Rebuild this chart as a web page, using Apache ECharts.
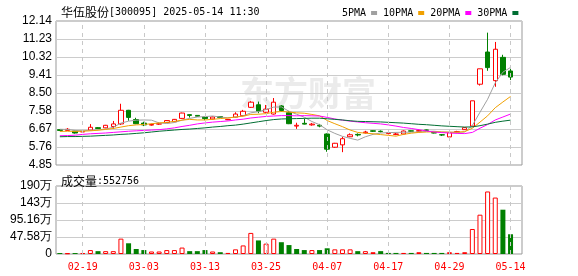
<!DOCTYPE html>
<html><head><meta charset="utf-8">
<script src="https://cdn.jsdelivr.net/npm/echarts@6/dist/echarts.min.js"></script>
<style>html,body{margin:0;padding:0;background:#fff}#c{width:578px;height:276px}</style>
</head><body><div id="c"></div>
<script>
const dates = ['02-14','02-17','02-18','02-19','02-20','02-21','02-24','02-25','02-26','02-27','02-28',
 '03-03','03-04','03-05','03-06','03-07','03-10','03-11','03-12','03-13','03-14','03-17','03-18','03-19','03-20','03-21','03-24','03-25','03-26','03-27','03-28','03-31',
 '04-01','04-02','04-03','04-07','04-08','04-09','04-10','04-11','04-14','04-15','04-16','04-17','04-18','04-21','04-22','04-23','04-24','04-25','04-28','04-29','04-30',
 '05-06','05-07','05-08','05-09','05-12','05-13','05-14'];
const opens = [6.64,6.60,6.57,6.52,6.62,6.74,6.73,6.80,6.93,7.62,
 7.15,6.97,6.87,6.92,7.00,7.04,7.21,7.40,7.36,7.28,
 7.18,7.30,7.14,7.27,7.35,7.77,7.90,7.52,7.43,7.84,
 7.50,6.82,6.96,6.88,6.86,6.42,5.75,5.87,6.28,6.40,
 6.48,6.58,6.56,6.44,6.40,6.42,6.58,6.56,6.62,6.49,
 6.38,6.27,6.52,6.64,6.82,8.94,10.57,9.12,10.30,9.61];
const closes = [6.60,6.66,6.47,6.55,6.76,6.70,6.86,6.93,7.62,7.26,
 6.94,6.88,6.90,6.94,7.10,7.16,7.48,7.36,7.32,7.20,
 7.28,7.26,7.16,7.43,7.57,8.03,7.58,7.68,8.03,7.61,
 6.94,6.86,6.92,6.92,6.82,5.65,5.95,6.18,6.38,6.37,
 6.52,6.56,6.54,6.48,6.42,6.57,6.56,6.59,6.61,6.47,
 6.37,6.49,6.54,6.74,8.10,9.72,9.78,10.71,9.44,9.30];
const lows = [6.58,6.58,6.44,6.50,6.60,6.68,6.71,6.68,6.88,7.09,
 6.92,6.82,6.84,6.88,6.98,7.02,7.19,7.25,7.30,7.12,
 7.16,7.22,7.12,7.25,7.32,7.74,7.47,7.48,7.40,7.55,
 6.92,6.68,6.90,6.84,6.76,5.52,5.72,5.50,6.26,6.30,
 6.44,6.52,6.50,6.40,6.36,6.40,6.52,6.54,6.58,6.45,
 6.32,6.25,6.48,6.62,6.80,8.87,9.62,8.81,9.39,9.15];
const highs = [6.66,6.72,6.60,6.58,6.92,6.77,6.88,7.08,7.95,7.64,
 7.24,7.04,6.95,7.00,7.12,7.18,7.50,7.42,7.38,7.28,
 7.30,7.32,7.18,7.52,7.64,8.08,8.06,7.89,8.24,7.88,
 7.58,6.99,7.20,6.98,6.93,6.45,5.97,6.28,6.45,6.45,
 6.58,6.60,6.60,6.56,6.48,6.60,6.60,6.64,6.64,6.50,
 6.42,6.50,6.58,6.76,8.10,9.72,11.55,11.08,10.43,9.75];
const ma5 = [6.66,6.65,6.60,6.58,6.61,6.63,6.67,6.76,6.97,7.07,
 7.12,7.13,7.12,6.98,6.95,7.00,7.12,7.21,7.28,7.30,
 7.33,7.28,7.24,7.27,7.34,7.49,7.55,7.66,7.78,7.79,
 7.57,7.42,7.27,7.05,6.89,6.63,6.45,6.30,6.20,6.11,
 6.28,6.40,6.47,6.49,6.50,6.51,6.51,6.52,6.55,6.56,
 6.52,6.51,6.50,6.52,6.85,7.52,8.18,9.01,9.55,9.79];
const ma10 = [6.55,6.56,6.55,6.56,6.58,6.61,6.65,6.70,6.77,6.84,
 6.88,6.90,6.94,6.98,7.01,7.06,7.12,7.16,7.13,7.13,
 7.16,7.20,7.23,7.28,7.32,7.41,7.42,7.45,7.52,7.56,
 7.53,7.49,7.47,7.41,7.34,7.10,6.94,6.79,6.62,6.50,
 6.46,6.43,6.39,6.35,6.31,6.40,6.46,6.50,6.52,6.53,
 6.52,6.51,6.51,6.54,6.71,7.02,7.34,7.75,8.04,8.32];
const ma20 = [6.33,6.34,6.36,6.40,6.43,6.45,6.47,6.50,6.53,6.56,
 6.58,6.60,6.62,6.64,6.68,6.73,6.80,6.86,6.93,6.98,
 7.02,7.05,7.08,7.13,7.17,7.23,7.27,7.31,7.33,7.35,
 7.35,7.34,7.35,7.34,7.33,7.26,7.18,7.12,7.07,7.03,
 6.99,6.96,6.93,6.88,6.82,6.75,6.70,6.64,6.57,6.52,
 6.49,6.47,6.45,6.44,6.50,6.71,6.90,7.13,7.28,7.43];
const ma30 = [6.28,6.29,6.29,6.30,6.31,6.33,6.35,6.37,6.40,6.42,
 6.45,6.48,6.52,6.56,6.59,6.62,6.65,6.67,6.70,6.73,
 6.77,6.80,6.84,6.87,6.92,6.98,7.04,7.10,7.15,7.18,
 7.19,7.20,7.21,7.22,7.22,7.19,7.16,7.13,7.09,7.06,
 7.05,7.04,7.03,7.01,6.99,6.97,6.94,6.91,6.89,6.86,
 6.83,6.81,6.79,6.77,6.78,6.84,6.92,7.01,7.07,7.12];
const volumesWan = [2.7,2,2.7,2.7,11,8,8,8,43,30,
 14,11,7,7,11,11,18,8,8,11,
 7,5,3,13,24,59,38,29,43,33,
 25,14,11,11,11,16,13,13,13,8,
 8,5,8,3,3,3,3,5,3,3,
 3,5,3,5,70,110,175,158,124,55.2756];
const volumeUp = [0,1,0,1,1,0,1,1,1,0,
 0,0,1,1,1,1,1,0,0,0,
 1,0,1,1,1,1,0,1,1,0,
 0,0,0,1,0,0,1,1,1,0,
 1,1,0,0,0,1,0,1,0,0,
 0,1,1,1,1,1,1,1,0,0];
const priceTickLabels = ['4.85','5.76','6.67','7.58','8.50','9.41','10.32','11.23','12.14'];
const volumeTickLabels = ['0','47.58万','95.16万','143万','190万'];
const labelDates = ['02-19','03-03','03-13','03-25','04-07','04-17','04-29','05-14'];
const titleName = '华伍股份';
const titleRest = '[300095] 2025-05-14 11:30';
const volTitle = '成交量';
const volLast = ':552756';

const chart = echarts.init(document.getElementById('c'), null, {renderer:'canvas'});
const cats = dates.concat(['']);
const candle = dates.map((d,i)=>[opens[i],closes[i],lows[i],highs[i]]);
const vol = volumesWan.map((v,i)=>({value:v, itemStyle: volumeUp[i]
  ? {color:'#fff', borderColor:'#ff0000', borderWidth:1}
  : {color:'#008000', borderColor:'#008000', borderWidth:0}}));
const vLines = labelDates.map(d=>({xAxis:d}));
const mono = "'DejaVu Sans Mono', monospace";
const sans = "'Liberation Sans', Arial, sans-serif";
const cjk = "'Noto Sans CJK SC', sans-serif";
const PMIN = 4.85, PMAX = 12.14, PINT = 0.91125;
const VMAX = 190.32, VINT = 47.58;
const markV = {symbol:['none','none'], silent:true, label:{show:false},
  lineStyle:{color:'#c8c8c8', type:[4,4], width:1}, data:vLines, animation:false};
const maLine = (name, data, color) => ({name, type:'line', data, xAxisIndex:0, yAxisIndex:0,
  symbol:'none', color, lineStyle:{width:1, color}, silent:true, z:3});
const richT = {a:{fontFamily:cjk,fontSize:12,color:'#000',fontWeight:'normal'},
               b:{fontFamily:mono,fontSize:10,color:'#000',fontWeight:'normal'}};

chart.setOption({
  animation:false,
  title:[
    {left:56, top:1, text:'{a|'+titleName+'}{b|'+titleRest+'}', textStyle:{fontWeight:'normal', rich:richT}},
    {left:56, top:170, text:'{a|'+volTitle+'}{b|'+volLast+'}', textStyle:{fontWeight:'normal', rich:richT}}
  ],
  legend:{left:337, top:3, align:'right', icon:'rect', itemWidth:6, itemHeight:4, itemGap:6,
    textStyle:{fontFamily:mono, fontSize:10, color:'#000'},
    data:['5PMA','10PMA','20PMA','30PMA'], selectedMode:false},
  graphic:[{type:'text', left:240, top:76, z:-10, silent:true,
    style:{text:'东方财富', font:'bold 34px "Noto Sans CJK SC"', fill:'#ebebeb'}}],
  grid:[
    {left:56, top:21, width:466, height:144, show:true, borderColor:'#999', borderWidth:1},
    {left:56, top:186, width:466, height:68, show:true, borderColor:'#999', borderWidth:1}
  ],
  xAxis:[
    {type:'category', gridIndex:0, data:cats, boundaryGap:true, axisLine:{show:false}, axisTick:{show:false},
     axisLabel:{show:false}, splitLine:{show:false}},
    {type:'category', gridIndex:1, data:cats, boundaryGap:true, axisLine:{show:false}, axisTick:{show:false},
     axisLabel:{interval:(i,v)=>labelDates.includes(v), color:'#ff0000', fontFamily:mono, fontSize:10, margin:8},
     splitLine:{show:false}}
  ],
  yAxis:[
    {type:'value', gridIndex:0, min:PMIN, max:PMAX, interval:PINT, axisLine:{show:false}, axisTick:{show:false},
     axisLabel:{formatter:v=>priceTickLabels[Math.round((v-PMIN)/PINT)], fontFamily:sans, fontSize:12, color:'#000', margin:4},
     splitLine:{lineStyle:{color:'#cccccc', width:1}}},
    {type:'value', gridIndex:1, min:0, max:VMAX, interval:VINT, axisLine:{show:false}, axisTick:{show:false},
     axisLabel:{formatter:v=>volumeTickLabels[Math.round(v/VINT)], fontFamily:sans, fontSize:12, color:'#000', margin:4},
     splitLine:{lineStyle:{color:'#cccccc', width:1}}}
  ],
  series:[
    {name:'K', type:'candlestick', xAxisIndex:0, yAxisIndex:0, data:candle, barWidth:5,
     itemStyle:{color:'#ffffff', color0:'#008000', borderColor:'#ff0000', borderColor0:'#008000', borderWidth:1},
     markLine:markV, z:2},
    maLine('5PMA', ma5, '#a0a0a0'),
    maLine('10PMA', ma10, '#f0a000'),
    maLine('20PMA', ma20, '#ff00ff'),
    maLine('30PMA', ma30, '#006e33'),
    {name:'VOL', type:'bar', xAxisIndex:1, yAxisIndex:1, data:vol, barWidth:5, markLine:markV}
  ]
});
</script></body></html>
